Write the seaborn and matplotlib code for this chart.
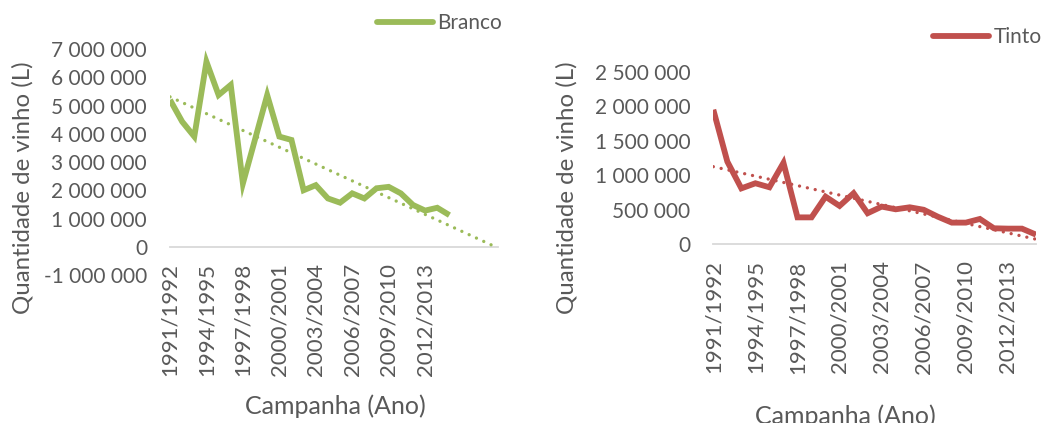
import numpy as np
import pandas as pd
import matplotlib
matplotlib.use("Agg")
import matplotlib.pyplot as plt
import seaborn as sns
from matplotlib.lines import Line2D
from matplotlib.ticker import FuncFormatter

sns.set_theme(style="white")
plt.rcParams['font.family'] = ['Lato', 'DejaVu Sans']

campanhas = [f"{y}/{y+1}" for y in range(1991, 2015)]
branco = [5200000, 4430000, 3900000, 6550000, 5370000, 5730000, 2240000, 3800000,
          5370000, 3900000, 3780000, 2000000, 2180000, 1710000, 1560000, 1890000,
          1710000, 2070000, 2120000, 1890000, 1480000, 1280000, 1380000, 1120000]
tinto = [1950000, 1198000, 810000, 884000, 826000, 1180000, 390000, 390000,
         690000, 556000, 740000, 450000, 546000, 507000, 536000, 500000,
         400000, 314000, 314000, 367000, 232000, 227000, 227000, 140000]
tick_labels = campanhas[::3]

GREEN = "#9BBB59"
RED = "#C0504D"
TXT = "#595959"
GRID = "#D9D9D9"

W, H = 1045, 423
fig = plt.figure(figsize=(W/100, H/100), dpi=100)

def fmt(v, pos):
    return f"{int(round(v)):,}".replace(",", " ")

def make_panel(rect, values, color, ylim, yticks, trend_end, xlab_xy, ylab_xy, leg_xy, leg_label):
    ax = fig.add_axes(rect)
    idx = np.arange(len(values))
    df = pd.DataFrame({"i": idx, "v": values})
    coef = np.polyfit(idx, values, 1)
    ti = np.arange(0, trend_end + 1)
    tdf = pd.DataFrame({"i": ti, "v": np.polyval(coef, ti)})
    sns.lineplot(data=tdf, x="i", y="v", ax=ax, color=color, lw=2.4,
                 linestyle=(0, (0.01, 2.4)), dash_capstyle="round", zorder=2)
    sns.lineplot(data=df, x="i", y="v", ax=ax, color=color, lw=4.2,
                 solid_joinstyle="miter", solid_capstyle="butt", zorder=3)
    for s in ["top", "right", "left"]:
        ax.spines[s].set_visible(False)
    ax.spines["bottom"].set_position(("data", 0))
    ax.spines["bottom"].set_color(GRID)
    ax.spines["bottom"].set_linewidth(1.3)
    ax.spines["bottom"].set_zorder(1)
    ax.set_xlim(0, trend_end)
    ax.set_ylim(*ylim)
    ax.set_yticks(yticks)
    ax.yaxis.set_major_formatter(FuncFormatter(fmt))
    ax.set_xticks(idx[::3])
    ax.set_xticklabels(tick_labels, rotation=90)
    ax.tick_params(axis="both", length=0, labelcolor=TXT)
    ax.tick_params(axis="y", pad=16.5, labelsize=15)
    ax.tick_params(axis="x", pad=11.5, labelrotation=90, labelsize=16)
    ax.set_xlabel("")
    ax.set_ylabel("")
    ax.grid(False)
    fig.text(xlab_xy[0]/W, 1 - xlab_xy[1]/H, "Campanha (Ano)", ha="center", va="center",
             fontsize=18, color=TXT)
    fig.text(ylab_xy[0]/W, 1 - ylab_xy[1]/H, "Quantidade de vinho (L)", ha="center", va="center",
             rotation=90, fontsize=17.3, color=TXT)
    h = Line2D([], [], color=color, lw=4.2, solid_capstyle="round")
    fig.legend([h], [leg_label], loc="center left",
               bbox_to_anchor=(leg_xy[0]/W, 1 - leg_xy[1]/H), bbox_transform=fig.transFigure,
               frameon=False, fontsize=15, handlelength=2.7, handletextpad=0.2,
               borderpad=0, borderaxespad=0, labelcolor=TXT)
    return ax

# Left panel: x 170..498 px, y 49..275 px
make_panel([170/W, 1-275/H, (498-170)/W, (275-49)/H], branco, GREEN,
           (-1000000, 7000000), np.arange(-1000000, 7000001, 1000000), 27,
           (335, 406), (23, 188), (377, 23), "Branco")
# Right panel: x 713..1036 px, y 71.7..244.3 px
make_panel([713.3/W, 1-244.3/H, (1036-713.3)/W, (244.3-71.7)/H], tinto, RED,
           (0, 2500000), np.arange(0, 2500001, 500000), 23,
           (845, 416), (567, 188), (933, 37), "Tinto")

fig.savefig("out.png", dpi=100)
